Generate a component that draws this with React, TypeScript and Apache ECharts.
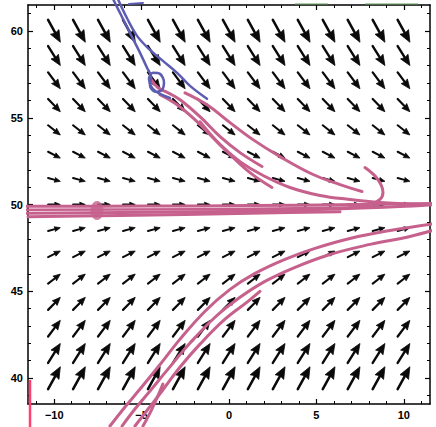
import React, { useEffect, useRef } from "react";
import * as echarts from "echarts";

// Direction-field grid
const arrowXs = [-10, -8.571, -7.143, -5.714, -4.286, -2.857, -1.429, 0, 1.429, 2.857, 4.286, 5.714, 7.143, 8.571, 10];
const arrowYs = [60, 58.571, 57.143, 55.714, 54.286, 52.857, 51.429, 50, 48.571, 47.143, 45.714, 44.286, 42.857, 41.429, 40];
// slope dy/dx of the arrows in each row (top to bottom)
const rowSlopes = [-1.85, -1.6, -1.35, -1.05, -0.8, -0.52, -0.27, 0, 0.27, 0.5, 0.78, 1.03, 1.33, 1.6, 1.85];

// Axis ticks
const majorX = [-10, -5, 0, 5, 10];
const minorX = [-11, -10, -9, -8, -7, -6, -5, -4, -3, -2, -1, 0, 1, 2, 3, 4, 5, 6, 7, 8, 9, 10, 11];
const majorY = [40, 45, 50, 55, 60];
const minorY = [39, 40, 41, 42, 43, 44, 45, 46, 47, 48, 49, 50, 51, 52, 53, 54, 55, 56, 57, 58, 59, 60, 61];

// Hand-drawn trajectories (data coordinates)
const blueA = [[-6.69, 61.96], [-6.12, 60.81], [-5.61, 59.78], [-5.09, 58.74], [-4.69, 57.88], [-4.46, 57.36], [-4.52, 56.84], [-4.23, 56.5], [-3.83, 56.61], [-3.72, 57.07], [-3.95, 57.53], [-4.35, 57.59], [-4.58, 57.25], [-4.41, 56.73], [-3.95, 56.38], [-3.38, 56.15]];
const blueB = [[-6.41, 61.96], [-5.84, 60.75], [-5.26, 59.72], [-4.52, 58.91], [-3.78, 58.28], [-2.97, 57.59], [-2.23, 56.84], [-1.26, 56.1]];
const blueTop = [[-5.72, 61.56], [-4.92, 61.62]];

const pinkA = [[-4.52, 57.3], [-4.06, 56.73], [-3.49, 56.44], [-2.8, 56.04], [-1.66, 55.06], [-0.51, 53.91], [0.63, 52.99], [1.89, 52.19]];
const pinkB = [[-3.95, 56.33], [-2.97, 55.75], [-1.95, 54.89], [-0.92, 53.85], [0.06, 52.88], [1.2, 51.84], [2.46, 50.98]];
const pinkC = [[-2.52, 56.44], [-1.26, 55.75], [0.06, 54.72], [1.37, 53.74], [2.92, 52.76], [4.81, 51.73], [6.35, 51.15], [7.61, 50.75]];
const pinkD = [[-1.66, 54.77], [-0.51, 53.45], [0.63, 52.47], [1.95, 51.67], [3.49, 50.98], [5.21, 50.52], [6.92, 50.29], [8.64, 50.12], [10.93, 50.0]];
const pinkHook = [[7.78, 52.13], [8.52, 51.44], [8.81, 50.69], [8.64, 50.29], [8.07, 50.0], [6.92, 49.88]];

const band1 = [[-11.96, 49.9], [-7.38, 49.9], [-1.66, 49.92], [4.06, 49.96], [11.84, 50.06]];
const band2 = [[-11.96, 49.5], [-4.52, 49.55], [4.06, 49.68], [9.78, 49.88], [11.84, 50.0]];
const band3 = [[-11.84, 49.7], [-1.66, 49.72], [8.64, 49.85]];
const band4 = [[-11.5, 49.3], [-6.24, 49.36], [1.2, 49.5], [6.35, 49.58]];
const blob = [[-7.55, 49.65]];

const low1 = [[-6.81, 37.23], [-5.95, 38.33], [-5.09, 39.36], [-4.06, 40.63], [-2.8, 42.24], [-1.37, 43.85], [0.06, 45.11], [1.49, 46.03], [3.2, 46.84], [4.92, 47.47], [6.92, 48.04], [9.21, 48.5], [11.84, 48.91]];
const low2 = [[-6.12, 37.23], [-5.38, 38.21], [-4.52, 39.25], [-3.49, 40.51], [-2.23, 42.01], [-0.8, 43.5], [0.63, 44.65], [2.06, 45.57], [3.78, 46.38], [5.78, 47.12], [8.07, 47.7], [10.35, 48.16], [11.84, 48.56]];
const low3 = [[-5.38, 37.23], [-4.63, 38.21], [-3.83, 39.25], [-2.8, 40.63], [-1.66, 41.95], [-0.23, 43.39], [1.09, 44.42], [1.77, 44.99]];
const low4 = [[-4.92, 37.23], [-4.41, 38.21], [-3.95, 39.25], [-3.78, 39.65]];

const PINK = "#c6608c";
const BLUE = "#5c5cb2";

function fmt(v: number) {
  return v < 0 ? "\u2212" + Math.abs(v) : String(v);
}

export default function App() {
  const ref = useRef<HTMLDivElement>(null);
  useEffect(() => {
    document.body.style.margin = "0";
    document.body.style.background = "#fff";
    const chart = echarts.init(ref.current!, null, { renderer: "svg" });

    const arrowData: number[][] = [];
    arrowYs.forEach((y, r) => {
      arrowXs.forEach((x) => arrowData.push([x, y, rowSlopes[r]]));
    });

    const labelStyle = {
      color: "#000",
      fontFamily: "Liberation Sans",
      fontWeight: "bold" as const,
      fontSize: 11,
    };
    const lineStyleAxis = { color: "#000", width: 1.5 };

    const line = (data: number[][], color: string, width: number, smooth = 0.4) => ({
      type: "line",
      data,
      showSymbol: false,
      symbol: "none",
      smooth,
      clip: false,
      z: 5,
      silent: true,
      lineStyle: { color, width, cap: "round", join: "round" },
    });

    chart.setOption({
      animation: false,
      grid: { left: 28, right: 6, top: 5, bottom: 23 },
      xAxis: [
        {
          type: "value", min: -11.5, max: 11.5, position: "bottom",
          axisLine: { show: true, lineStyle: lineStyleAxis, onZero: false },
          axisTick: { show: true, inside: true, length: 5, customValues: majorX, lineStyle: { color: "#000", width: 1.2 } },
          axisLabel: { show: true, customValues: majorX, formatter: fmt, margin: 5, ...labelStyle },
          splitLine: { show: false },
        },
        {
          type: "value", min: -11.5, max: 11.5, position: "bottom",
          axisLine: { show: false, onZero: false },
          axisTick: { show: true, inside: true, length: 3, customValues: minorX, lineStyle: { color: "#000", width: 1 } },
          axisLabel: { show: false },
          splitLine: { show: false },
        },
        {
          type: "value", min: -11.5, max: 11.5, position: "top",
          axisLine: { show: true, lineStyle: lineStyleAxis, onZero: false },
          axisTick: { show: true, inside: true, length: 5, customValues: majorX, lineStyle: { color: "#000", width: 1.2 } },
          axisLabel: { show: false },
          splitLine: { show: false },
        },
        {
          type: "value", min: -11.5, max: 11.5, position: "top",
          axisLine: { show: false, onZero: false },
          axisTick: { show: true, inside: true, length: 3, customValues: minorX, lineStyle: { color: "#000", width: 1 } },
          axisLabel: { show: false },
          splitLine: { show: false },
        },
      ],
      yAxis: [
        {
          type: "value", min: 38.5, max: 61.5, position: "left",
          axisLine: { show: true, lineStyle: lineStyleAxis, onZero: false },
          axisTick: { show: true, inside: true, length: 5, customValues: majorY, lineStyle: { color: "#000", width: 1.2 } },
          axisLabel: { show: true, customValues: majorY, formatter: fmt, margin: 5, ...labelStyle },
          splitLine: { show: false },
        },
        {
          type: "value", min: 38.5, max: 61.5, position: "left",
          axisLine: { show: false, onZero: false },
          axisTick: { show: true, inside: true, length: 3, customValues: minorY, lineStyle: { color: "#000", width: 1 } },
          axisLabel: { show: false },
          splitLine: { show: false },
        },
        {
          type: "value", min: 38.5, max: 61.5, position: "right",
          axisLine: { show: true, lineStyle: lineStyleAxis, onZero: false },
          axisTick: { show: true, inside: true, length: 5, customValues: majorY, lineStyle: { color: "#000", width: 1.2 } },
          axisLabel: { show: false },
          splitLine: { show: false },
        },
        {
          type: "value", min: 38.5, max: 61.5, position: "right",
          axisLine: { show: false, onZero: false },
          axisTick: { show: true, inside: true, length: 3, customValues: minorY, lineStyle: { color: "#000", width: 1 } },
          axisLabel: { show: false },
          splitLine: { show: false },
        },
      ],
      series: [
        {
          type: "custom",
          data: arrowData,
          z: 2,
          silent: true,
          renderItem: (params: any, api: any) => {
            const x = api.value(0), y = api.value(1), s = api.value(2);
            const c = api.coord([x, y]);
            const p = api.coord([x + 1, y + s]);
            const vx = p[0] - c[0], vy = p[1] - c[1];
            const mag = Math.hypot(vx, vy);
            const ux = vx / mag, uy = vy / mag;
            const L = mag * 0.7;
            const tx = c[0] - (ux * L) / 2, ty = c[1] - (uy * L) / 2;
            const hx = c[0] + (ux * L) / 2, hy = c[1] + (uy * L) / 2;
            const h = 0.46 * L, hw = 0.19 * L;
            const bx = hx - ux * h, by = hy - uy * h;
            const nx = -uy, ny = ux;
            return {
              type: "group",
              children: [
                {
                  type: "line",
                  shape: { x1: tx, y1: ty, x2: bx + ux * 2, y2: by + uy * 2 },
                  style: { stroke: "#0a0a0a", lineWidth: 1.5 + 0.04 * L, lineCap: "round" },
                },
                {
                  type: "polygon",
                  shape: { points: [[hx, hy], [bx + nx * hw, by + ny * hw], [bx + ux * h * 0.12, by + uy * h * 0.12], [bx - nx * hw, by - ny * hw]] },
                  style: { fill: "#0a0a0a", stroke: "#0a0a0a", lineWidth: 0.8, lineJoin: "round" },
                },
              ],
            };
          },
        },
        line(band1, PINK, 3, 0.3),
        line(band2, PINK, 3, 0.3),
        line(band3, PINK, 2.5, 0.3),
        line(band4, PINK, 3, 0.3),
        {
          type: "scatter",
          data: blob,
          symbol: "circle",
          symbolSize: [13, 19],
          z: 5,
          silent: true,
          itemStyle: { color: PINK },
        },
        line(pinkA, PINK, 3),
        line(pinkB, PINK, 3),
        line(pinkC, PINK, 3),
        line(pinkD, PINK, 3),
        line(pinkHook, PINK, 3),
        line(low1, PINK, 3),
        line(low2, PINK, 3),
        line(low3, PINK, 3),
        line(low4, PINK, 3),
        line(blueA, BLUE, 2.5, 0.3),
        line(blueB, BLUE, 2.5),
        line(blueTop, BLUE, 2, 0),
      ],
      graphic: [
        { type: "line", shape: { x1: 30, y1: 380, x2: 30, y2: 427 }, style: { stroke: "#ff4070", lineWidth: 2.5 }, z: 10 },
        { type: "line", shape: { x1: 295, y1: 4, x2: 328, y2: 4 }, style: { stroke: "#5a9a5a", lineWidth: 1 }, z: 10 },
        { type: "line", shape: { x1: 365, y1: 4, x2: 418, y2: 4 }, style: { stroke: "#5a9a5a", lineWidth: 1 }, z: 10 },
      ],
    });
    return () => chart.dispose();
  }, []);
  return <div ref={ref} style={{ position: "absolute", left: 0, top: 0, width: 436, height: 427 }} />;
}
